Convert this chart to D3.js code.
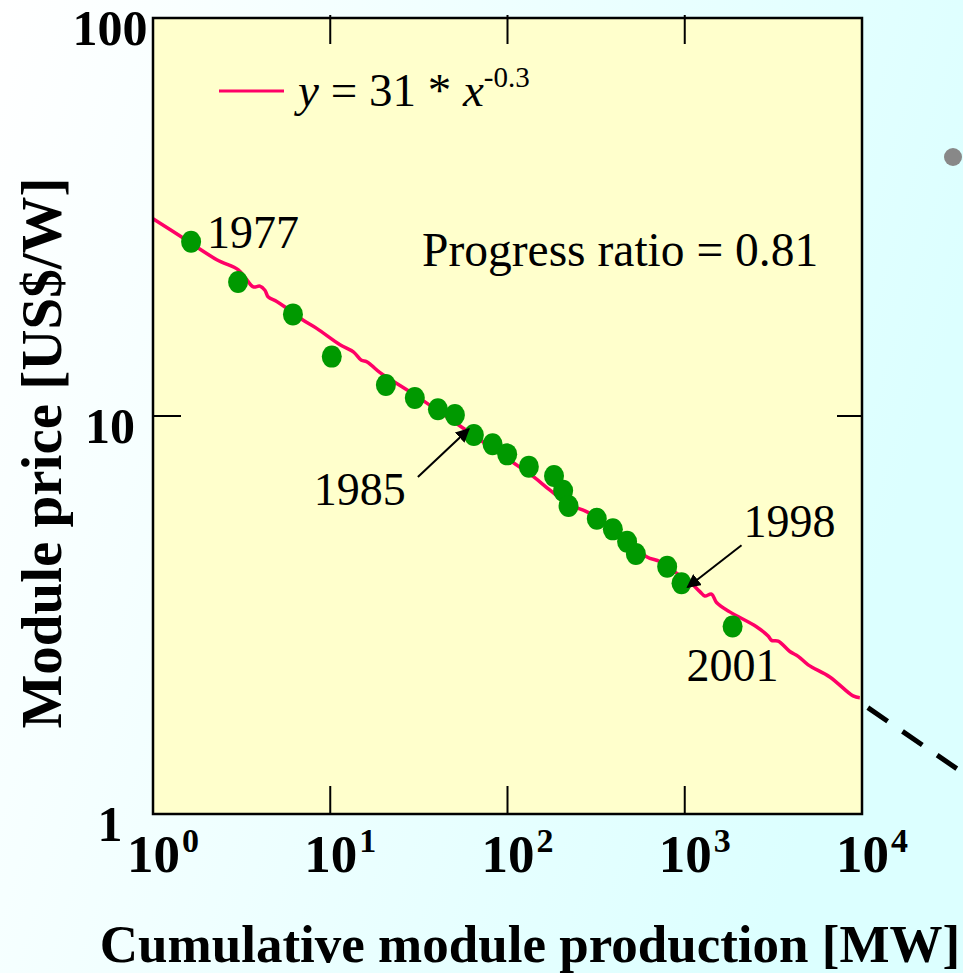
<!DOCTYPE html>
<html>
<head>
<meta charset="utf-8">
<script src="https://cdn.jsdelivr.net/npm/d3@7"></script>
<style>
  html, body { margin: 0; padding: 0; }
  body { width: 963px; height: 973px; overflow: hidden; }
  svg text { font-family: "Liberation Serif", "Times New Roman", serif; fill: #000; }
</style>
</head>
<body>
<div id="graph"></div>
<script>
// cumulative production [MW] and module price [US$/W]
var pointX = [1.64, 3.02, 6.16, 10.2, 20.6, 30.0, 40.5, 50.5, 64.6, 82.4, 99.6,
  132, 183, 206, 221, 319, 393, 473, 530, 796, 959, 1862];
var pointY = [27.4, 21.7, 18.0, 14.1, 11.97, 11.1, 10.4, 10.06, 8.96, 8.49, 8.01,
  7.46, 7.07, 6.49, 5.94, 5.52, 5.19, 4.83, 4.50, 4.18, 3.80, 2.96];

// traced fit line (hand drawn, with its small wiggles)
var fitX = [1.0, 1.48, 2.29, 3.03, 3.38, 3.68, 4.01, 4.28, 4.47, 4.99, 5.68, 7.04, 8.38,
  11.35, 13.5, 15.0, 16.0, 17.1, 19.1, 28.2, 45.4, 79.6, 140, 173, 225, 279, 362, 609,
  724, 899, 1069, 1217, 1298, 1416, 1511, 1795, 2539, 2954, 3087, 3365, 3917, 4365,
  4970, 6583, 8906, 9720];
var fitY = [31.3, 28.0, 24.7, 23.3, 22.0, 21.1, 21.2, 20.7, 19.9, 19.4, 18.65, 17.4, 16.6,
  15.1, 14.5, 13.8, 13.7, 13.4, 12.85, 11.5, 9.96, 8.37, 7.04, 6.52, 5.98, 5.75, 5.38, 4.43,
  4.31, 4.03, 3.83, 3.62, 3.53, 3.57, 3.40, 3.22, 2.955, 2.80, 2.73, 2.72, 2.56, 2.49,
  2.37, 2.21, 1.98, 1.96];

// dashed extrapolation beyond the frame
var extX = [10790, 34260];
var extY = [1.85, 1.30];

var xTicks = [1, 10, 100, 1000, 10000];
var xTickExp = ["0", "1", "2", "3", "4"];
var yTicks = [1, 10, 100];
var yTickLabels = ["1", "10", "100"];

var yearLabels = ["1977", "1985", "1998", "2001"];
var yearIndex = [0, 8, 20, 21];

var W = 963, H = 973;
var svg = d3.select("#graph").append("svg").attr("width", W).attr("height", H);

//page background
var grad = svg.append("defs").append("linearGradient")
  .attr("id", "bg").attr("x1", "0").attr("y1", "0").attr("x2", "1").attr("y2", "0.3");
grad.append("stop").attr("offset", "0%").attr("stop-color", "#ffffff");
grad.append("stop").attr("offset", "100%").attr("stop-color", "#dcffff");
svg.append("rect").attr("width", W).attr("height", H).attr("fill", "url(#bg)");

var x = d3.scaleLog().domain([1, 1e4]).range([153, 862]);
var y = d3.scaleLog().domain([1, 100]).range([814, 18]);

//plot area
svg.append("rect")
  .attr("x", x(1)).attr("y", y(100))
  .attr("width", x(1e4) - x(1)).attr("height", y(1) - y(100))
  .attr("fill", "#ffffcc");

//inner ticks on all four sides
var tl = 28;
var inner = xTicks.slice(1, -1);
svg.append("g").selectAll("line").data(inner).join("line")
  .attr("x1", function(d) { return x(d); }).attr("x2", function(d) { return x(d); })
  .attr("y1", y(1)).attr("y2", y(1) - tl)
  .attr("stroke", "#000").attr("stroke-width", 2);
svg.append("g").selectAll("line").data(inner).join("line")
  .attr("x1", function(d) { return x(d); }).attr("x2", function(d) { return x(d); })
  .attr("y1", y(100) - 3).attr("y2", y(100) + tl - 2)
  .attr("stroke", "#000").attr("stroke-width", 2);
svg.append("line")
  .attr("x1", x(1)).attr("x2", x(1) + tl).attr("y1", y(10)).attr("y2", y(10))
  .attr("stroke", "#000").attr("stroke-width", 2);
svg.append("line")
  .attr("x1", x(1e4) - tl + 3).attr("x2", x(1e4)).attr("y1", y(10)).attr("y2", y(10))
  .attr("stroke", "#000").attr("stroke-width", 2);

//fit line
var line = d3.line()
  .x(function(d) { return x(d[0]); })
  .y(function(d) { return y(d[1]); })
  .curve(d3.curveCatmullRom);

svg.append("path")
  .datum(d3.zip(fitX, fitY))
  .attr("d", line)
  .attr("fill", "none").attr("stroke", "#ff0066").attr("stroke-width", 3.5);

svg.append("path")
  .datum(d3.zip(extX, extY))
  .attr("d", d3.line().x(function(d) { return x(d[0]); }).y(function(d) { return y(d[1]); }))
  .attr("fill", "none").attr("stroke", "#000").attr("stroke-width", 5)
  .attr("stroke-dasharray", "24,18");

//data points
svg.append("g").selectAll("ellipse").data(d3.zip(pointX, pointY)).join("ellipse")
  .attr("cx", function(d) { return x(d[0]); })
  .attr("cy", function(d) { return y(d[1]); })
  .attr("rx", 10).attr("ry", 11)
  .attr("fill", "#009900");

//frame
svg.append("rect")
  .attr("x", x(1)).attr("y", y(100))
  .attr("width", x(1e4) - x(1)).attr("height", y(1) - y(100))
  .attr("fill", "none").attr("stroke", "#000").attr("stroke-width", 2.5);

//tick labels
var xl = svg.append("g").selectAll("text").data(xTicks).join("text")
  .attr("x", function(d) { return x(d) - 26; })
  .attr("y", 872)
  .style("font-size", "53px").style("font-weight", "bold");
xl.append("tspan").text("10");
xl.append("tspan").attr("dy", -20).attr("dx", 2).style("font-size", "34px")
  .text(function(d, i) { return xTickExp[i]; });

svg.append("g").selectAll("text").data(yTicks).join("text")
  .attr("x", 110)
  .attr("y", function(d) { return y(d) + 27; })
  .attr("text-anchor", "middle")
  .style("font-size", "50px").style("font-weight", "bold")
  .text(function(d, i) { return yTickLabels[i]; });

//axis titles
svg.append("text")
  .attr("x", 530).attr("y", 962)
  .attr("text-anchor", "middle")
  .style("font-size", "53px").style("font-weight", "bold")
  .text("Cumulative module production [MW]");

svg.append("text")
  .attr("transform", "translate(61,453) rotate(-90)")
  .attr("text-anchor", "middle")
  .style("font-size", "57px").style("font-weight", "bold")
  .text("Module price [US$/W]");

//legend
svg.append("line")
  .attr("x1", 219).attr("x2", 284).attr("y1", 91).attr("y2", 91)
  .attr("stroke", "#ff0066").attr("stroke-width", 3);
var lg = svg.append("text").attr("x", 298).attr("y", 106).style("font-size", "47px");
lg.append("tspan").style("font-style", "italic").text("y");
lg.append("tspan").text(" = 31 * ");
lg.append("tspan").style("font-style", "italic").text("x");
lg.append("tspan").attr("dy", -19).style("font-size", "29px").text("-0.3");

svg.append("text")
  .attr("x", 422).attr("y", 266)
  .style("font-size", "47.5px")
  .text("Progress ratio = 0.81");

//year annotations
var yearOffset = [[16, 6], [-160, 70], [62, -46], [-46, 55]];
svg.append("g").selectAll("text").data(yearLabels).join("text")
  .attr("x", function(d, i) { return x(pointX[yearIndex[i]]) + yearOffset[i][0]; })
  .attr("y", function(d, i) { return y(pointY[yearIndex[i]]) + yearOffset[i][1]; })
  .style("font-size", "46px")
  .text(function(d) { return d; });

//arrows
svg.append("defs").append("marker")
  .attr("id", "arr").attr("viewBox", "0 0 10 10").attr("refX", 9).attr("refY", 5)
  .attr("markerWidth", 7).attr("markerHeight", 7).attr("orient", "auto")
  .append("path").attr("d", "M0,0L10,5L0,10z").attr("fill", "#000");

var arrows = [[8, -56, 42, -5, -6], [20, 60, -38, 6, 4]];
arrows.forEach(function(a) {
  var px = x(pointX[a[0]]), py = y(pointY[a[0]]);
  svg.append("line")
    .attr("x1", px + a[1]).attr("y1", py + a[2])
    .attr("x2", px + a[3]).attr("y2", py + a[4])
    .attr("stroke", "#000").attr("stroke-width", 2)
    .attr("marker-end", "url(#arr)");
});

//slide bullet
svg.append("circle").attr("cx", 953).attr("cy", 157).attr("r", 9).attr("fill", "#888");
</script>
</body>
</html>
